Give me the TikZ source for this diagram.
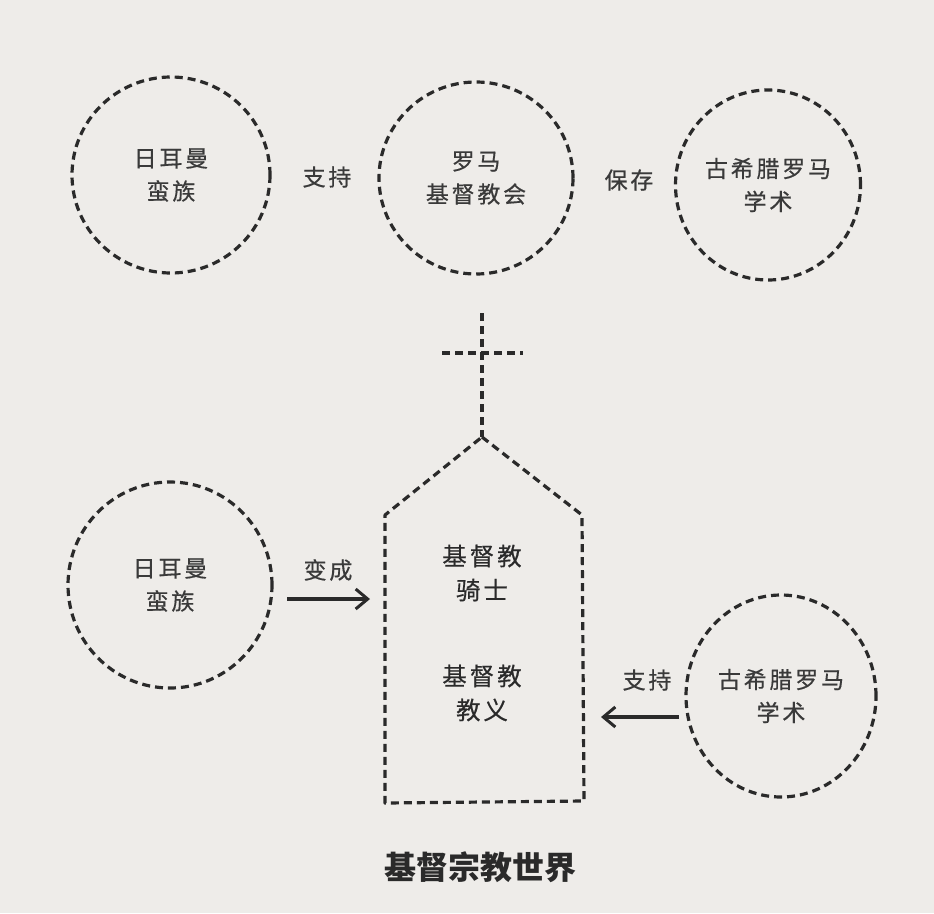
\documentclass[tikz,border=0pt]{standalone}
\usepackage{fontspec}
\newfontfamily\cjk[LetterSpace=12,FakeBold=0.5]{Noto Sans CJK SC}
\newfontfamily\cjkt{Noto Sans CJK SC}
\usetikzlibrary{shapes.geometric,arrows.meta}
\definecolor{bg}{RGB}{238,236,233}
\definecolor{ink}{RGB}{42,42,42}
\definecolor{txt}{RGB}{58,58,58}
\begin{document}
\begin{tikzpicture}[x=1pt,y=-1pt,
  dashline/.style={draw=ink, line width=3.2pt, dash pattern=on 8pt off 5pt},
  bubble/.style={ellipse, dashline, inner sep=0pt, outer sep=0pt, align=center,
    text=txt, font=\cjk\fontsize{23}{33}\selectfont},
  lbl/.style={text=txt, font=\cjk\fontsize{23}{33}\selectfont, inner sep=0pt},
  inner/.style={text=ink, align=center, inner sep=0pt, font=\cjk\fontsize{24.5}{34}\selectfont},
  arr/.style={draw=ink, line width=3.2pt, -{Straight Barb[length=12pt,width=20pt,line width=3pt]}}
]
\fill[bg] (0,0) rectangle (934,913);
\useasboundingbox (0,0) rectangle (934,913);

% top row
\node[bubble, minimum width=198pt, minimum height=196pt] (g1) at (171,175) {日耳曼\\蛮族};
\node[bubble, minimum width=194pt, minimum height=192pt] (rc) at (476,178) {罗马\\基督教会};
\node[bubble, minimum width=185pt, minimum height=190pt] (gr1) at (768,185) {古希腊罗马\\学术};
\node[lbl] (s1) at (327,177) {支持};
\node[lbl] (p1) at (629,180) {保存};

% cross
\coordinate (ctop) at (482,313);
\coordinate (apex) at (482,437);
\coordinate (cl) at (442,353);
\coordinate (cr) at (523,353);
\draw[dashline] (ctop) -- (apex);
\draw[dashline] (cl) -- (cr);

% church
\coordinate (chtl) at (385,515);
\coordinate (chtr) at (582,515);
\coordinate (chbl) at (385,803);
\coordinate (chbr) at (584,801);
\draw[dashline, line join=round] (apex) -- (chtr) -- (chbr) -- (chbl) -- (chtl) -- cycle;
\node[inner] (kn) at (482,573) {基督教\\骑士};
\node[inner] (dc) at (482,693) {基督教\\教义};

% bottom row
\node[bubble, minimum width=204pt, minimum height=206pt] (g2) at (170,585) {日耳曼\\蛮族};
\node[bubble, minimum width=190pt, minimum height=202pt] (gr2) at (781,696) {古希腊罗马\\学术};
\node[lbl] (bc) at (328,570) {变成};
\node[lbl] (s2) at (647,680) {支持};
\coordinate (a1s) at (287,599);
\coordinate (a1e) at (370,599);
\coordinate (a2s) at (679,717);
\coordinate (a2e) at (601,717);
\draw[arr] (a1s) -- (a1e);
\draw[arr] (a2s) -- (a2e);

% title
\node[text=ink, inner sep=0pt, font=\cjkt\bfseries\fontsize{32}{36}\selectfont] (title) at (480,867) {基督宗教世界};
\end{tikzpicture}
\end{document}
